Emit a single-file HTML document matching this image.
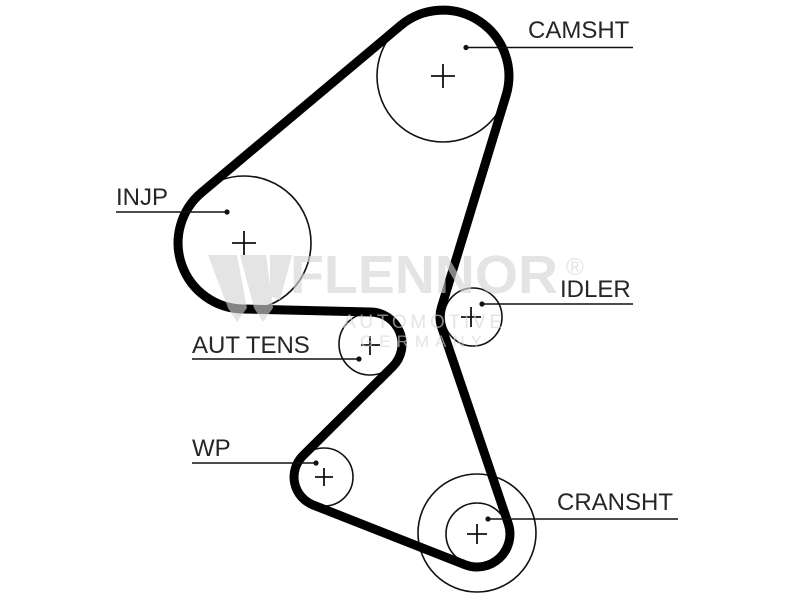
<!DOCTYPE html>
<html>
<head>
<meta charset="utf-8">
<style>
  html, body { margin:0; padding:0; background:#ffffff; }
  body { width:800px; height:600px; overflow:hidden; }
  svg { display:block; }
  .lbl { font-family:"Liberation Sans", Arial, sans-serif; font-size:24px; fill:#262626; }
</style>
</head>
<body>
<svg width="800" height="600" viewBox="0 0 800 600" xmlns="http://www.w3.org/2000/svg">
  <rect width="800" height="600" fill="#ffffff"/>

  <!-- thin pulley circles -->
  <g fill="none" stroke="#111" stroke-width="1.6">
    <circle cx="443" cy="76" r="66"/>
    <circle cx="244" cy="243" r="67"/>
    <circle cx="473" cy="317" r="29"/>
    <circle cx="370" cy="344" r="31"/>
    <circle cx="324" cy="477" r="29"/>
    <circle cx="477" cy="534" r="31"/>
    <circle cx="477" cy="533" r="59"/>
  </g>

  <!-- crosses -->
  <g stroke="#111" stroke-width="1.8">
    <line x1="431" y1="76" x2="455" y2="76"/><line x1="443" y1="64" x2="443" y2="88"/>
    <line x1="232" y1="243" x2="256" y2="243"/><line x1="244" y1="231" x2="244" y2="255"/>
    <line x1="461" y1="317" x2="481" y2="317"/><line x1="471" y1="307" x2="471" y2="327"/>
    <line x1="361" y1="345" x2="380" y2="345"/><line x1="370" y1="336" x2="370" y2="355"/>
    <line x1="315" y1="477" x2="333" y2="477"/><line x1="324" y1="468" x2="324" y2="486"/>
    <line x1="467" y1="534" x2="487" y2="534"/><line x1="477" y1="524" x2="477" y2="544"/>
  </g>

  <!-- belt -->
  <path d="M 201.6 192.5 L 400.6 25.5 A 66 66 0 0 1 506.1 95.2 L 441.4 307.4 A 33 33 0 0 0 441.8 327.6 L 508.2 523.4 A 33 33 0 0 1 464.9 564.7 L 313.0 504.9 A 30 30 0 0 1 302.8 455.8 L 392.7 366.6 A 32 32 0 0 0 370.5 312.0 L 242.9 309.0 A 66 66 0 0 1 201.6 192.5 Z"
        fill="none" stroke="#000" stroke-width="9" stroke-linejoin="round"/>

  <!-- watermark -->
  <g opacity="0.62" fill="#d4d4d4">
    <polygon points="208,255 237,255 247,308 237,322 228,308"/>
    <polygon points="240,255 266,255 273,308 263,322 254,308"/>
    <polygon points="270,255 292,255 280,300 270,296"/>
    <text x="290" y="293" font-family="'Liberation Sans', Arial, sans-serif" font-weight="bold" font-size="54" textLength="268" lengthAdjust="spacingAndGlyphs">FLENNOR</text>
    <text x="566" y="275" font-family="'Liberation Sans', Arial, sans-serif" font-size="24">®</text>
    <text x="343" y="328" font-family="'Liberation Sans', Arial, sans-serif" font-size="19" textLength="159" lengthAdjust="spacing">AUTOMOTIVE</text>
    <text x="360" y="347" font-family="'Liberation Sans', Arial, sans-serif" font-size="17" textLength="122" lengthAdjust="spacing">GERMANY</text>
  </g>

  <!-- leader lines -->
  <g stroke="#111" stroke-width="1.6">
    <line x1="466" y1="47.5" x2="633" y2="47.5"/>
    <line x1="116" y1="212" x2="227" y2="212"/>
    <line x1="192" y1="359" x2="359" y2="359"/>
    <line x1="482" y1="304" x2="633" y2="304"/>
    <line x1="192" y1="463" x2="316" y2="463"/>
    <line x1="488" y1="519" x2="678" y2="519"/>
  </g>
  <g fill="#111">
    <circle cx="466" cy="47.5" r="2.6"/>
    <circle cx="227" cy="212" r="2.6"/>
    <circle cx="359" cy="359" r="2.6"/>
    <circle cx="482" cy="304" r="2.6"/>
    <circle cx="316" cy="463" r="2.6"/>
    <circle cx="488" cy="519" r="2.6"/>
  </g>

  <!-- labels -->
  <text class="lbl" x="528" y="38">CAMSHT</text>
  <text class="lbl" x="116" y="205">INJP</text>
  <text class="lbl" x="192" y="353">AUT TENS</text>
  <text class="lbl" x="560" y="297">IDLER</text>
  <text class="lbl" x="192" y="456">WP</text>
  <text class="lbl" x="557" y="510">CRANSHT</text>
</svg>
</body>
</html>
